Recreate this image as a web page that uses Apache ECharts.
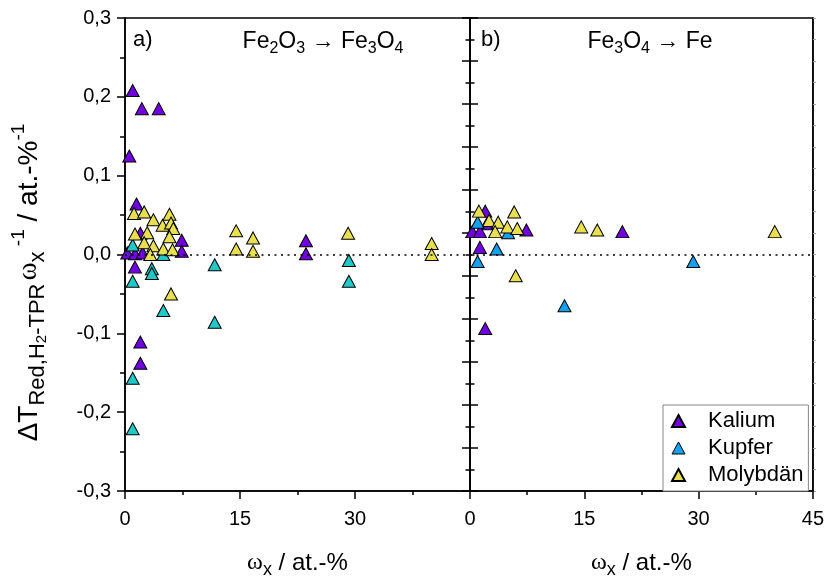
<!DOCTYPE html>
<html>
<head>
<meta charset="utf-8">
<script src="https://cdn.jsdelivr.net/npm/echarts@6/dist/echarts.min.js"></script>
<style>html,body{margin:0;padding:0;background:#fff}#c{width:827px;height:584px}</style>
</head>
<body>
<div id="c"></div>
<script>
// ---- data (panel a: Fe2O3 -> Fe3O4) ----
const kaliumA_x = [1.0, 2.2, 4.4, 0.56, 1.5, 2.0, 7.4, 7.4, 0.3, 1.3, 2.3, 1.3, 2.0, 2.0, 23.6, 23.6];
const kaliumA_y = [0.208, 0.185, 0.185, 0.125, 0.064, 0.027, 0.018, 0.004, 0.002, 0.001, 0.002, -0.016, -0.111, -0.138, 0.0175, 0.001];
const kupferA_x = [1.0, 5.0, 11.7, 3.5, 3.5, 1.0, 5.0, 11.7, 1.0, 1.0, 29.2, 29.2];
const kupferA_y = [0.012, 0.0, -0.013, -0.018, -0.024, -0.034, -0.071, -0.086, -0.157, -0.221, -0.0075, -0.034];
const molyA_x = [1.17, 2.5, 3.7, 5.8, 4.9, 6.0, 6.3, 5.8, 1.3, 2.9, 2.5, 3.7, 5.0, 6.2, 3.3, 6.0, 14.5, 14.5, 16.7, 16.7, 29.1, 40.0, 40.0];
const molyA_y = [0.052, 0.054, 0.044, 0.051, 0.037, 0.040, 0.033, 0.0225, 0.026, 0.0275, 0.015, 0.011, 0.007, 0.006, 0.0, -0.050, 0.030, 0.007, 0.021, 0.004, 0.027, 0.014, 0.0];
// ---- data (panel b: Fe3O4 -> Fe) ----
const kaliumB_x = [2.0, 2.2, 7.4, 0.3, 1.3, 1.3, 2.0, 20.0];
const kaliumB_y = [0.055, 0.039, 0.031, 0.029, 0.029, 0.009, -0.094, 0.029];
const kupferB_x = [1.0, 5.0, 3.5, 1.0, 12.4, 29.3];
const kupferB_y = [0.041, 0.0275, 0.007, -0.009, -0.065, -0.009];
const molyB_x = [1.17, 2.5, 3.7, 5.8, 4.9, 6.2, 3.3, 6.0, 14.6, 16.7, 40.0];
const molyB_y = [0.055, 0.043, 0.041, 0.054, 0.035, 0.033, 0.029, -0.027, 0.035, 0.031, 0.029];
// ---- tick / labels ----
const xTicks = [0, 15, 30, 45];
const yTicks = [-0.3, -0.2, -0.1, 0.0, 0.1, 0.2, 0.3];
const seriesNames = ['Kalium', 'Kupfer', 'Molybdän'];

const pair = (xs, ys) => xs.map((x, i) => [x, ys[i]]);
const FONT = 'Liberation Sans, Arial, sans-serif';
const SERIF = 'Liberation Serif, serif';
const C_K = '#7000E0', C_CU_A = '#20C8C8', C_CU_B = '#14A0F0', C_MO = '#E8E050';

const chart = echarts.init(document.getElementById('c'), null, {renderer: 'canvas'});

const richY = {
  a: {fontSize: 28, fontFamily: FONT, color: '#000', lineHeight: 40, verticalAlign: 'middle'},
  s: {fontSize: 22, fontFamily: FONT, color: '#000', verticalAlign: 'bottom', lineHeight: 40},
  ss: {fontSize: 15, fontFamily: FONT, color: '#000', verticalAlign: 'bottom', lineHeight: 34},
  p: {fontSize: 19, fontFamily: FONT, color: '#000', verticalAlign: 'top', lineHeight: 40},
  w: {fontSize: 27, fontFamily: SERIF, color: '#000', verticalAlign: 'middle', lineHeight: 40}
};
const richX = {
  a: {fontSize: 24, fontFamily: FONT, color: '#000', lineHeight: 32, verticalAlign: 'middle'},
  s: {fontSize: 18, fontFamily: FONT, color: '#000', verticalAlign: 'bottom', lineHeight: 32},
  w: {fontSize: 24, fontFamily: SERIF, color: '#000', verticalAlign: 'middle', lineHeight: 32}
};
const richTitle = {
  a: {fontSize: 23, fontFamily: FONT, color: '#000', lineHeight: 30, verticalAlign: 'middle'},
  s: {fontSize: 16, fontFamily: FONT, color: '#000', lineHeight: 30, verticalAlign: 'bottom'}
};

function xAx(gridIndex, hideLast) {
  return {
    type: 'value', gridIndex, min: 0, max: 45, interval: 15, position: 'bottom',
    axisLine: {show: true, onZero: false, lineStyle: {color: '#000', width: 1.5}},
    axisTick: {show: true, length: 8, lineStyle: {color: '#000', width: 1.5}},
    minorTick: {show: true, splitNumber: 2, length: 4, lineStyle: {color: '#000', width: 1.5}},
    splitLine: {show: false},
    axisLabel: {fontSize: 20, fontFamily: FONT, color: '#000', margin: 18,
      formatter: v => (hideLast && v === 45) ? '' : (xTicks.includes(v) ? String(v) : '')},
    name: '{w|ω}{s|x}{a| / at.-%}', nameLocation: 'middle', nameGap: 56,
    nameTextStyle: {rich: richX}
  };
}

const option = {
  animation: false,
  backgroundColor: '#fff',
  grid: [
    {left: 125, top: 18, width: 345, height: 480, show: true, borderColor: '#000', borderWidth: 1.5, backgroundColor: 'transparent'},
    {left: 470, top: 18, width: 345, height: 480, show: true, borderColor: '#000', borderWidth: 1.5, backgroundColor: 'transparent'}
  ],
  xAxis: [xAx(0, true), xAx(1, false)],
  yAxis: [
    {
      type: 'value', gridIndex: 0, min: -0.3, max: 0.3, interval: 0.1, position: 'left',
      axisLine: {show: true, onZero: false, lineStyle: {color: '#000', width: 1.5}},
      axisTick: {show: true, length: 8, lineStyle: {color: '#000', width: 1.5}},
      minorTick: {show: true, splitNumber: 2, length: 5, lineStyle: {color: '#000', width: 1.5}},
      splitLine: {show: false},
      axisLabel: {fontSize: 20, fontFamily: FONT, color: '#000', margin: 14,
        formatter: v => {
          const t = yTicks.find(tv => Math.abs(tv - v) < 1e-9);
          return t === undefined ? '' : t.toFixed(1).replace('.', ',');
        }},
      name: '{a|ΔT}{s|Red,H}{ss|2}{s|-TPR} {w|ω}{s|x}{p| -1}{a| / at.-%}{p|-1}',
      nameLocation: 'middle', nameGap: 76, nameRotate: 90,
      nameTextStyle: {rich: richY, padding: [0, 56, 0, 0]}
    },
    {
      type: 'value', gridIndex: 1, min: -0.3, max: 0.3, show: false,
      splitLine: {show: false}
    },
    {
      type: 'value', gridIndex: 1, min: -0.55, max: 0.55, interval: 0.1, position: 'left', offset: 0,
      axisLine: {show: true, onZero: false, lineStyle: {color: '#000', width: 1.5}},
      axisTick: {show: true, inside: false, length: 8, lineStyle: {color: '#000', width: 1.5}},
      minorTick: {show: true, splitNumber: 2, length: 4.5, lineStyle: {color: '#000', width: 1.5}},
      axisLabel: {show: false}, splitLine: {show: false}
    },
    {
      type: 'value', gridIndex: 1, min: -0.55, max: 0.55, interval: 0.1, position: 'left', offset: 0,
      axisLine: {show: false},
      axisTick: {show: true, inside: true, length: 8, lineStyle: {color: '#000', width: 1.5}},
      minorTick: {show: true, splitNumber: 2, length: 4.5, lineStyle: {color: '#000', width: 1.5}},
      axisLabel: {show: false}, splitLine: {show: false}
    },
    {
      type: 'value', gridIndex: 1, min: -0.55, max: 0.55, interval: 0.05, position: 'right', offset: 0,
      axisLine: {show: true, onZero: false, lineStyle: {color: '#000', width: 1.5}},
      axisTick: {show: true, inside: false, length: 3, lineStyle: {color: '#999', width: 1}},
      axisLabel: {show: false}, splitLine: {show: false}
    }
  ],
  legend: {
    orient: 'vertical', left: 663, top: 405,
    backgroundColor: '#fff', borderColor: '#888', borderWidth: 1, borderRadius: 0,
    padding: [5, 5, 5, 8], itemGap: 5, itemWidth: 13, itemHeight: 12,
    textStyle: {fontSize: 22, fontFamily: FONT, color: '#000', padding: [0, 0, 0, 18]},
    data: [
      {name: 'Kalium'},
      {name: 'Kupfer', itemStyle: {color: C_CU_B, borderColor: '#000', borderWidth: 1}},
      {name: 'Molybdän'}
    ]
  },
  graphic: [
    {type: 'text', left: 133, top: 29, z: 100, style: {text: 'a)', font: '22px ' + FONT, fill: '#000'}},
    {type: 'text', left: 481, top: 29, z: 100, style: {text: 'b)', font: '22px ' + FONT, fill: '#000'}},
    {type: 'text', x: 323, y: 42, z: 100, style: {text: '{a|Fe}{s|2}{a|O}{s|3}{a| → Fe}{s|3}{a|O}{s|4}', rich: richTitle, align: 'center', verticalAlign: 'middle'}},
    {type: 'text', x: 650, y: 42, z: 100, style: {text: '{a|Fe}{s|3}{a|O}{s|4}{a| → Fe}', rich: richTitle, align: 'center', verticalAlign: 'middle'}}
  ],
  series: []
};

const zeroLine = {
  silent: true, symbol: 'none', label: {show: false},
  lineStyle: {type: [2, 4.5], color: '#000', width: 1.5},
  data: [{yAxis: 0}]
};
function sc(name, xi, yi, data, color, withZero) {
  const s = {
    name, type: 'scatter', xAxisIndex: xi, yAxisIndex: yi, data,
    symbol: 'triangle', symbolSize: [13, 12],
    itemStyle: {color, borderColor: '#000', borderWidth: 1, opacity: 1},
    emphasis: {disabled: true}
  };
  if (withZero) s.markLine = zeroLine;
  return s;
}
option.series.push(sc(seriesNames[0], 0, 0, pair(kaliumA_x, kaliumA_y), C_K, true));
option.series.push(sc(seriesNames[1], 0, 0, pair(kupferA_x, kupferA_y), C_CU_A, false));
option.series.push(sc(seriesNames[2], 0, 0, pair(molyA_x, molyA_y), C_MO, false));
option.series.push(sc(seriesNames[0], 1, 1, pair(kaliumB_x, kaliumB_y), C_K, true));
option.series.push(sc(seriesNames[1], 1, 1, pair(kupferB_x, kupferB_y), C_CU_B, false));
option.series.push(sc(seriesNames[2], 1, 1, pair(molyB_x, molyB_y), C_MO, false));

chart.setOption(option);
</script>
</body>
</html>
